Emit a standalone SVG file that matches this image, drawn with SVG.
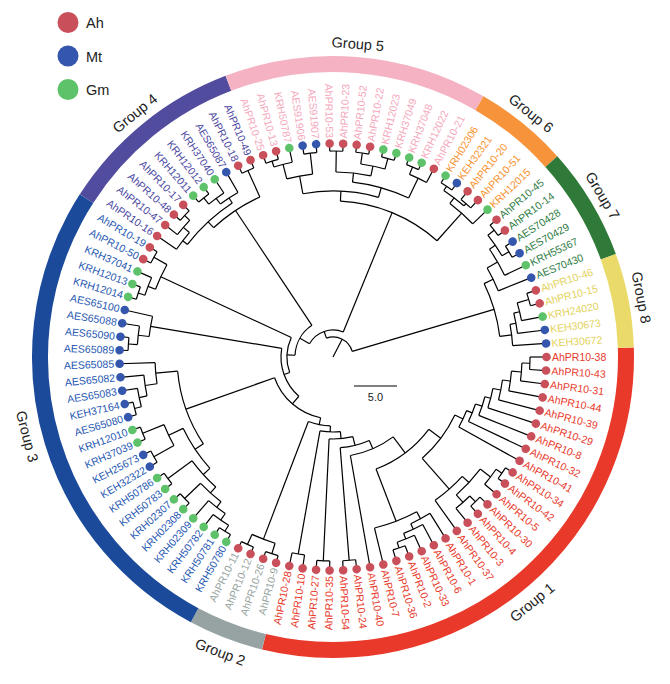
<svg xmlns="http://www.w3.org/2000/svg" width="670" height="684" viewBox="0 0 670 684">
<style>
.t{font-family:"Liberation Sans",Arial,sans-serif;font-size:10.5px}
.f{text-anchor:end}
.c1{fill:#e8392b}.c2{fill:#98a49f}.c3{fill:#1f58b2}.c4{fill:#4b479f}.c5{fill:#f4a8bb}.c6{fill:#f7922e}.c7{fill:#2f7b45}.c8{fill:#e4d25c}
.ah{fill:#c9505a}.mt{fill:#3556ad}.gm{fill:#5ec26a}
#conn path,#conn circle{fill:none;stroke:#000;stroke-width:1.2}
.band{fill:none;stroke-width:16}
.gl{font-family:"Liberation Sans",Arial,sans-serif;font-size:14.5px;fill:#222;text-anchor:middle}
.lg{font-family:"Liberation Sans",Arial,sans-serif;font-size:14.5px;fill:#222}
</style>
<rect width="670" height="684" fill="#fff"/>
<g id="legend">
<g id="legend-ah"><circle cx="68" cy="22.5" r="10.5" class="ah"/><text class="lg" x="86" y="28">Ah</text></g>
<g id="legend-mt"><circle cx="68" cy="56" r="10.5" class="mt"/><text class="lg" x="86" y="61.5">Mt</text></g>
<g id="legend-gm"><circle cx="68" cy="89.5" r="10.5" class="gm"/><text class="lg" x="86" y="95">Gm</text></g>
</g>
<g transform="translate(333 357)">
<g id="bands">
<circle class="band" r="293" pathLength="99" stroke-dasharray="29 999" transform="rotate(-1.818)" stroke="#e8392a"/>
<circle class="band" r="293" pathLength="99" stroke-dasharray="4 999" transform="rotate(103.636)" stroke="#97a3a3"/>
<circle class="band" r="293" pathLength="99" stroke-dasharray="26 999" transform="rotate(118.182)" stroke="#1b4a9a"/>
<circle class="band" r="293" pathLength="99" stroke-dasharray="10 999" transform="rotate(212.727)" stroke="#524c9e"/>
<circle class="band" r="293" pathLength="99" stroke-dasharray="14 999" transform="rotate(249.091)" stroke="#f4b2c2"/>
<circle class="band" r="293" pathLength="99" stroke-dasharray="5 999" transform="rotate(300)" stroke="#f7933b"/>
<circle class="band" r="293" pathLength="99" stroke-dasharray="6 999" transform="rotate(318.182)" stroke="#2f7a38"/>
<circle class="band" r="293" pathLength="99" stroke-dasharray="5 999" transform="rotate(340)" stroke="#e9da6a"/>
</g>
<g id="group-labels">
<text class="gl" transform="rotate(50.909) translate(321 0) rotate(-90)">Group 1</text>
<text class="gl" transform="rotate(110.909) translate(321 0) rotate(-90)">Group 2</text>
<text class="gl" transform="rotate(165.455) translate(321 0) rotate(-90)">Group 3</text>
<text class="gl" transform="rotate(230.909) translate(309 0) rotate(90)">Group 4</text>
<text class="gl" transform="rotate(274.545) translate(309 0) rotate(90)">Group 5</text>
<text class="gl" transform="rotate(309.091) translate(309 0) rotate(90)">Group 6</text>
<text class="gl" transform="rotate(329.091) translate(309 0) rotate(90)">Group 7</text>
<text class="gl" transform="rotate(349.091) translate(309 0) rotate(90)">Group 8</text>
</g>
<g id="conn">
<circle r="197" pathLength="99" stroke-dasharray="1 999" transform="rotate(0)"/><path d="M189 0H197" transform="rotate(1.818)"/>
<circle r="189" pathLength="99" stroke-dasharray="1.5 999" transform="rotate(1.818)"/><path d="M179 0H189" transform="rotate(4.545)"/>
<circle r="179" pathLength="99" stroke-dasharray="1.75 999" transform="rotate(4.545)"/><path d="M171 0H179" transform="rotate(7.727)"/>
<circle r="171" pathLength="99" stroke-dasharray="1.875 999" transform="rotate(7.727)"/><path d="M163 0H171" transform="rotate(11.136)"/>
<circle r="163" pathLength="99" stroke-dasharray="1.9375 999" transform="rotate(11.136)"/><path d="M157 0H163" transform="rotate(14.659)"/>
<circle r="157" pathLength="99" stroke-dasharray="1.969 999" transform="rotate(14.659)"/><path d="M150 0H157" transform="rotate(18.239)"/>
<circle r="150" pathLength="99" stroke-dasharray="1.984 999" transform="rotate(18.239)"/><path d="M144 0H150" transform="rotate(21.847)"/>
<circle r="144" pathLength="99" stroke-dasharray="1.992 999" transform="rotate(21.847)"/><path d="M135 0H144" transform="rotate(25.469)"/>
<circle r="205" pathLength="99" stroke-dasharray="1 999" transform="rotate(32.727)"/><path d="M198 0H205" transform="rotate(34.545)"/>
<circle r="198" pathLength="99" stroke-dasharray="1.5 999" transform="rotate(34.545)"/><path d="M185 0H198" transform="rotate(37.273)"/>
<circle r="203" pathLength="99" stroke-dasharray="1 999" transform="rotate(43.636)"/><path d="M195 0H203" transform="rotate(45.455)"/>
<circle r="195" pathLength="99" stroke-dasharray="1.5 999" transform="rotate(45.455)"/><path d="M185 0H195" transform="rotate(48.182)"/>
<circle r="185" pathLength="99" stroke-dasharray="3 999" transform="rotate(37.273)"/><path d="M176 0H185" transform="rotate(42.727)"/>
<circle r="176" pathLength="99" stroke-dasharray="3.25 999" transform="rotate(42.727)"/><path d="M135 0H176" transform="rotate(48.636)"/>
<circle r="135" pathLength="99" stroke-dasharray="6.371 999" transform="rotate(25.469)"/><path d="M120 0H135" transform="rotate(37.054)"/>
<circle r="202" pathLength="99" stroke-dasharray="1 999" transform="rotate(69.091)"/><path d="M196 0H202" transform="rotate(70.909)"/>
<circle r="196" pathLength="99" stroke-dasharray="1.5 999" transform="rotate(65.455)"/><path d="M190 0H196" transform="rotate(68.182)"/>
<circle r="190" pathLength="99" stroke-dasharray="1.75 999" transform="rotate(61.818)"/><path d="M184 0H190" transform="rotate(65)"/>
<circle r="184" pathLength="99" stroke-dasharray="1.875 999" transform="rotate(58.182)"/><path d="M176 0H184" transform="rotate(61.591)"/>
<circle r="176" pathLength="99" stroke-dasharray="4.0625 999" transform="rotate(61.591)"/><path d="M120 0H176" transform="rotate(68.977)"/>
<circle r="120" pathLength="99" stroke-dasharray="8.78 999" transform="rotate(37.054)"/><path d="M100 0H120" transform="rotate(53.02)"/>
<circle r="100" pathLength="99" stroke-dasharray="7.42 999" transform="rotate(53.02)"/><path d="M91 0H100" transform="rotate(66.51)"/>
<circle r="204" pathLength="99" stroke-dasharray="1 999" transform="rotate(83.636)"/><path d="M91 0H204" transform="rotate(85.455)"/>
<circle r="91" pathLength="99" stroke-dasharray="5.21 999" transform="rotate(66.51)"/><path d="M82 0H91" transform="rotate(75.98)"/>
<circle r="204" pathLength="99" stroke-dasharray="1 999" transform="rotate(90.909)"/><path d="M82 0H204" transform="rotate(92.727)"/>
<circle r="82" pathLength="99" stroke-dasharray="4.605 999" transform="rotate(75.98)"/><path d="M75 0H82" transform="rotate(84.354)"/>
<circle r="200" pathLength="99" stroke-dasharray="1 999" transform="rotate(98.182)"/><path d="M75 0H200" transform="rotate(100)"/>
<circle r="75" pathLength="99" stroke-dasharray="4.3025 999" transform="rotate(84.354)"/><path d="M69 0H75" transform="rotate(92.178)"/>
<circle r="206" pathLength="99" stroke-dasharray="1 999" transform="rotate(105.455)"/><path d="M195 0H206" transform="rotate(107.273)"/>
<circle r="206" pathLength="99" stroke-dasharray="1 999" transform="rotate(112.727)"/><path d="M195 0H206" transform="rotate(114.545)"/>
<circle r="195" pathLength="99" stroke-dasharray="2 999" transform="rotate(107.273)"/><path d="M69 0H195" transform="rotate(110.909)"/>
<circle r="69" pathLength="99" stroke-dasharray="5.151 999" transform="rotate(92.178)"/><path d="M62 0H69" transform="rotate(101.54)"/>
<circle r="205" pathLength="99" stroke-dasharray="1 999" transform="rotate(120)"/><path d="M198 0H205" transform="rotate(121.818)"/>
<circle r="198" pathLength="99" stroke-dasharray="1.5 999" transform="rotate(121.818)"/><path d="M190 0H198" transform="rotate(124.545)"/>
<circle r="190" pathLength="99" stroke-dasharray="1.75 999" transform="rotate(124.545)"/><path d="M183 0H190" transform="rotate(127.727)"/>
<circle r="205" pathLength="99" stroke-dasharray="1 999" transform="rotate(134.545)"/><path d="M183 0H205" transform="rotate(136.364)"/>
<circle r="183" pathLength="99" stroke-dasharray="2.375 999" transform="rotate(127.727)"/><path d="M175 0H183" transform="rotate(132.045)"/>
<circle r="205" pathLength="99" stroke-dasharray="1 999" transform="rotate(141.818)"/><path d="M175 0H205" transform="rotate(143.636)"/>
<circle r="175" pathLength="99" stroke-dasharray="3.1875 999" transform="rotate(132.045)"/><path d="M166 0H175" transform="rotate(137.841)"/>
<circle r="205" pathLength="99" stroke-dasharray="1 999" transform="rotate(149.091)"/><path d="M182 0H205" transform="rotate(150.909)"/>
<circle r="205" pathLength="99" stroke-dasharray="1 999" transform="rotate(156.364)"/><path d="M182 0H205" transform="rotate(158.182)"/>
<circle r="182" pathLength="99" stroke-dasharray="2 999" transform="rotate(150.909)"/><path d="M166 0H182" transform="rotate(154.545)"/>
<circle r="166" pathLength="99" stroke-dasharray="4.594 999" transform="rotate(137.841)"/><path d="M156 0H166" transform="rotate(146.193)"/>
<circle r="205" pathLength="99" stroke-dasharray="1 999" transform="rotate(163.636)"/><path d="M198 0H205" transform="rotate(165.455)"/>
<circle r="198" pathLength="99" stroke-dasharray="1.5 999" transform="rotate(165.455)"/><path d="M190 0H198" transform="rotate(168.182)"/>
<circle r="190" pathLength="99" stroke-dasharray="1.75 999" transform="rotate(168.182)"/><path d="M178 0H190" transform="rotate(171.364)"/>
<circle r="178" pathLength="99" stroke-dasharray="1.875 999" transform="rotate(171.364)"/><path d="M156 0H178" transform="rotate(174.773)"/>
<circle r="156" pathLength="99" stroke-dasharray="7.86 999" transform="rotate(146.193)"/><path d="M62 0H156" transform="rotate(160.48)"/>
<circle r="62" pathLength="99" stroke-dasharray="16.209 999" transform="rotate(101.54)"/><path d="M52 0H62" transform="rotate(131.01)"/>
<circle r="205" pathLength="99" stroke-dasharray="1 999" transform="rotate(181.818)"/><path d="M196 0H205" transform="rotate(183.636)"/>
<circle r="196" pathLength="99" stroke-dasharray="1.5 999" transform="rotate(183.636)"/><path d="M185 0H196" transform="rotate(186.364)"/>
<circle r="185" pathLength="99" stroke-dasharray="1.75 999" transform="rotate(186.364)"/><path d="M52 0H185" transform="rotate(189.545)"/>
<circle r="52" pathLength="99" stroke-dasharray="16.095 999" transform="rotate(131.01)"/><path d="M46 0H52" transform="rotate(160.28)"/>
<circle r="205" pathLength="99" stroke-dasharray="1 999" transform="rotate(196.364)"/><path d="M198 0H205" transform="rotate(198.182)"/>
<circle r="198" pathLength="99" stroke-dasharray="1.5 999" transform="rotate(198.182)"/><path d="M190 0H198" transform="rotate(200.909)"/>
<circle r="205" pathLength="99" stroke-dasharray="1 999" transform="rotate(207.273)"/><path d="M190 0H205" transform="rotate(209.091)"/>
<circle r="190" pathLength="99" stroke-dasharray="2.25 999" transform="rotate(200.909)"/><path d="M46 0H190" transform="rotate(205)"/>
<circle r="46" pathLength="99" stroke-dasharray="12.297 999" transform="rotate(160.28)"/><path d="M38 0H46" transform="rotate(182.64)"/>
<circle r="205" pathLength="99" stroke-dasharray="1 999" transform="rotate(221.818)"/><path d="M198 0H205" transform="rotate(223.636)"/>
<circle r="198" pathLength="99" stroke-dasharray="1.5 999" transform="rotate(218.182)"/><path d="M190 0H198" transform="rotate(220.909)"/>
<circle r="190" pathLength="99" stroke-dasharray="1.75 999" transform="rotate(214.545)"/><path d="M184 0H190" transform="rotate(217.727)"/>
<circle r="205" pathLength="99" stroke-dasharray="1 999" transform="rotate(229.091)"/><path d="M197 0H205" transform="rotate(230.909)"/>
<circle r="197" pathLength="99" stroke-dasharray="1.5 999" transform="rotate(230.909)"/><path d="M190 0H197" transform="rotate(233.636)"/>
<circle r="190" pathLength="99" stroke-dasharray="1.75 999" transform="rotate(233.636)"/><path d="M184 0H190" transform="rotate(236.818)"/>
<circle r="184" pathLength="99" stroke-dasharray="5.25 999" transform="rotate(217.727)"/><path d="M176 0H184" transform="rotate(227.273)"/>
<circle r="205" pathLength="99" stroke-dasharray="1 999" transform="rotate(243.636)"/><path d="M176 0H205" transform="rotate(245.455)"/>
<circle r="176" pathLength="99" stroke-dasharray="5 999" transform="rotate(227.273)"/><path d="M38 0H176" transform="rotate(236.364)"/>
<circle r="38" pathLength="99" stroke-dasharray="14.773 999" transform="rotate(182.64)"/><path d="M27 0H38" transform="rotate(209.5)"/>
<circle r="205" pathLength="99" stroke-dasharray="1 999" transform="rotate(250.909)"/><path d="M199 0H205" transform="rotate(252.727)"/>
<circle r="199" pathLength="99" stroke-dasharray="1.5 999" transform="rotate(252.727)"/><path d="M184 0H199" transform="rotate(255.455)"/>
<circle r="205" pathLength="99" stroke-dasharray="1 999" transform="rotate(261.818)"/><path d="M184 0H205" transform="rotate(263.636)"/>
<circle r="184" pathLength="99" stroke-dasharray="2.25 999" transform="rotate(255.455)"/><path d="M166 0H184" transform="rotate(259.545)"/>
<circle r="206" pathLength="99" stroke-dasharray="1 999" transform="rotate(269.091)"/><path d="M185 0H206" transform="rotate(270.909)"/>
<circle r="206" pathLength="99" stroke-dasharray="1 999" transform="rotate(276.364)"/><path d="M195 0H206" transform="rotate(278.182)"/>
<circle r="206" pathLength="99" stroke-dasharray="1 999" transform="rotate(283.636)"/><path d="M195 0H206" transform="rotate(285.455)"/>
<circle r="195" pathLength="99" stroke-dasharray="2 999" transform="rotate(278.182)"/><path d="M185 0H195" transform="rotate(281.818)"/>
<circle r="185" pathLength="99" stroke-dasharray="3 999" transform="rotate(270.909)"/><path d="M176 0H185" transform="rotate(276.364)"/>
<circle r="206" pathLength="99" stroke-dasharray="1 999" transform="rotate(290.909)"/><path d="M198 0H206" transform="rotate(292.727)"/>
<circle r="198" pathLength="99" stroke-dasharray="1.5 999" transform="rotate(292.727)"/><path d="M176 0H198" transform="rotate(295.455)"/>
<circle r="176" pathLength="99" stroke-dasharray="5.25 999" transform="rotate(276.364)"/><path d="M166 0H176" transform="rotate(285.909)"/>
<circle r="166" pathLength="99" stroke-dasharray="7.25 999" transform="rotate(259.545)"/><path d="M156 0H166" transform="rotate(272.727)"/>
<circle r="205" pathLength="99" stroke-dasharray="1 999" transform="rotate(301.818)"/><path d="M200 0H205" transform="rotate(303.636)"/>
<circle r="203" pathLength="99" stroke-dasharray="1 999" transform="rotate(309.091)"/><path d="M200 0H203" transform="rotate(310.909)"/>
<circle r="200" pathLength="99" stroke-dasharray="2 999" transform="rotate(303.636)"/><path d="M193 0H200" transform="rotate(307.273)"/>
<circle r="193" pathLength="99" stroke-dasharray="2.5 999" transform="rotate(307.273)"/><path d="M156 0H193" transform="rotate(311.818)"/>
<circle r="156" pathLength="99" stroke-dasharray="10.75 999" transform="rotate(272.727)"/><path d="M27 0H156" transform="rotate(292.27)"/>
<circle r="27" pathLength="99" stroke-dasharray="22.761 999" transform="rotate(209.5)"/><path d="M20 0H27" transform="rotate(250.89)"/>
<circle r="205" pathLength="99" stroke-dasharray="1 999" transform="rotate(320)"/><path d="M197 0H205" transform="rotate(321.818)"/>
<circle r="205" pathLength="99" stroke-dasharray="1 999" transform="rotate(327.273)"/><path d="M197 0H205" transform="rotate(329.091)"/>
<circle r="197" pathLength="99" stroke-dasharray="2 999" transform="rotate(321.818)"/><path d="M190 0H197" transform="rotate(325.455)"/>
<circle r="190" pathLength="99" stroke-dasharray="2.5 999" transform="rotate(325.455)"/><path d="M178 0H190" transform="rotate(330)"/>
<circle r="178" pathLength="99" stroke-dasharray="2.25 999" transform="rotate(330)"/><path d="M168 0H178" transform="rotate(334.091)"/>
<circle r="204" pathLength="99" stroke-dasharray="1 999" transform="rotate(341.818)"/><path d="M192 0H204" transform="rotate(343.636)"/>
<circle r="192" pathLength="99" stroke-dasharray="1.5 999" transform="rotate(343.636)"/><path d="M186 0H192" transform="rotate(346.364)"/>
<circle r="186" pathLength="99" stroke-dasharray="1.75 999" transform="rotate(346.364)"/><path d="M180 0H186" transform="rotate(349.545)"/>
<circle r="180" pathLength="99" stroke-dasharray="1.875 999" transform="rotate(349.545)"/><path d="M168 0H180" transform="rotate(352.955)"/>
<circle r="168" pathLength="99" stroke-dasharray="5.1875 999" transform="rotate(334.091)"/><path d="M20 0H168" transform="rotate(343.523)"/>
<circle r="20" pathLength="99" stroke-dasharray="25.4745 999" transform="rotate(250.89)"/><path d="M0 0H20" transform="rotate(297.2)"/>
<path d="M197 0H213.5" transform="rotate(0)"/><path d="M197 0H213.5" transform="rotate(3.636)"/><path d="M189 0H213.5" transform="rotate(7.273)"/><path d="M179 0H213.5" transform="rotate(10.909)"/><path d="M171 0H213.5" transform="rotate(14.545)"/><path d="M163 0H213.5" transform="rotate(18.182)"/><path d="M157 0H213.5" transform="rotate(21.818)"/><path d="M150 0H213.5" transform="rotate(25.455)"/><path d="M144 0H213.5" transform="rotate(29.091)"/><path d="M205 0H213.5" transform="rotate(32.727)"/>
<path d="M205 0H213.5" transform="rotate(36.364)"/><path d="M198 0H213.5" transform="rotate(40)"/><path d="M203 0H213.5" transform="rotate(43.636)"/><path d="M203 0H213.5" transform="rotate(47.273)"/><path d="M195 0H213.5" transform="rotate(50.909)"/><path d="M176 0H213.5" transform="rotate(54.545)"/><path d="M184 0H213.5" transform="rotate(58.182)"/><path d="M190 0H213.5" transform="rotate(61.818)"/><path d="M196 0H213.5" transform="rotate(65.455)"/><path d="M202 0H213.5" transform="rotate(69.091)"/>
<path d="M202 0H213.5" transform="rotate(72.727)"/><path d="M176 0H213.5" transform="rotate(76.364)"/><path d="M100 0H213.5" transform="rotate(80)"/><path d="M204 0H213.5" transform="rotate(83.636)"/><path d="M204 0H213.5" transform="rotate(87.273)"/><path d="M204 0H213.5" transform="rotate(90.909)"/><path d="M204 0H213.5" transform="rotate(94.545)"/><path d="M200 0H213.5" transform="rotate(98.182)"/><path d="M200 0H213.5" transform="rotate(101.818)"/><path d="M206 0H213.5" transform="rotate(105.455)"/>
<path d="M206 0H213.5" transform="rotate(109.091)"/><path d="M206 0H213.5" transform="rotate(112.727)"/><path d="M206 0H213.5" transform="rotate(116.364)"/><path d="M205 0H213.5" transform="rotate(120)"/><path d="M205 0H213.5" transform="rotate(123.636)"/><path d="M198 0H213.5" transform="rotate(127.273)"/><path d="M190 0H213.5" transform="rotate(130.909)"/><path d="M205 0H213.5" transform="rotate(134.545)"/><path d="M205 0H213.5" transform="rotate(138.182)"/><path d="M205 0H213.5" transform="rotate(141.818)"/>
<path d="M205 0H213.5" transform="rotate(145.455)"/><path d="M205 0H213.5" transform="rotate(149.091)"/><path d="M205 0H213.5" transform="rotate(152.727)"/><path d="M205 0H213.5" transform="rotate(156.364)"/><path d="M205 0H213.5" transform="rotate(160)"/><path d="M205 0H213.5" transform="rotate(163.636)"/><path d="M205 0H213.5" transform="rotate(167.273)"/><path d="M198 0H213.5" transform="rotate(170.909)"/><path d="M190 0H213.5" transform="rotate(174.545)"/><path d="M178 0H213.5" transform="rotate(178.182)"/>
<path d="M205 0H213.5" transform="rotate(181.818)"/><path d="M205 0H213.5" transform="rotate(185.455)"/><path d="M196 0H213.5" transform="rotate(189.091)"/><path d="M185 0H213.5" transform="rotate(192.727)"/><path d="M205 0H213.5" transform="rotate(196.364)"/><path d="M205 0H213.5" transform="rotate(200)"/><path d="M198 0H213.5" transform="rotate(203.636)"/><path d="M205 0H213.5" transform="rotate(207.273)"/><path d="M205 0H213.5" transform="rotate(210.909)"/><path d="M190 0H213.5" transform="rotate(214.545)"/>
<path d="M198 0H213.5" transform="rotate(218.182)"/><path d="M205 0H213.5" transform="rotate(221.818)"/><path d="M205 0H213.5" transform="rotate(225.455)"/><path d="M205 0H213.5" transform="rotate(229.091)"/><path d="M205 0H213.5" transform="rotate(232.727)"/><path d="M197 0H213.5" transform="rotate(236.364)"/><path d="M190 0H213.5" transform="rotate(240)"/><path d="M205 0H213.5" transform="rotate(243.636)"/><path d="M205 0H213.5" transform="rotate(247.273)"/><path d="M205 0H213.5" transform="rotate(250.909)"/>
<path d="M205 0H213.5" transform="rotate(254.545)"/><path d="M199 0H213.5" transform="rotate(258.182)"/><path d="M205 0H213.5" transform="rotate(261.818)"/><path d="M205 0H213.5" transform="rotate(265.455)"/><path d="M206 0H213.5" transform="rotate(269.091)"/><path d="M206 0H213.5" transform="rotate(272.727)"/><path d="M206 0H213.5" transform="rotate(276.364)"/><path d="M206 0H213.5" transform="rotate(280)"/><path d="M206 0H213.5" transform="rotate(283.636)"/><path d="M206 0H213.5" transform="rotate(287.273)"/>
<path d="M206 0H213.5" transform="rotate(290.909)"/><path d="M206 0H213.5" transform="rotate(294.545)"/><path d="M198 0H213.5" transform="rotate(298.182)"/><path d="M205 0H213.5" transform="rotate(301.818)"/><path d="M205 0H213.5" transform="rotate(305.455)"/><path d="M203 0H213.5" transform="rotate(309.091)"/><path d="M203 0H213.5" transform="rotate(312.727)"/><path d="M193 0H213.5" transform="rotate(316.364)"/><path d="M205 0H213.5" transform="rotate(320)"/><path d="M205 0H213.5" transform="rotate(323.636)"/>
<path d="M205 0H213.5" transform="rotate(327.273)"/><path d="M205 0H213.5" transform="rotate(330.909)"/><path d="M190 0H213.5" transform="rotate(334.545)"/><path d="M178 0H213.5" transform="rotate(338.182)"/><path d="M204 0H213.5" transform="rotate(341.818)"/><path d="M204 0H213.5" transform="rotate(345.455)"/><path d="M192 0H213.5" transform="rotate(349.091)"/><path d="M186 0H213.5" transform="rotate(352.727)"/><path d="M180 0H213.5" transform="rotate(356.364)"/>
</g>
<g id="leaves">
<g id="leaf-AhPR10-38" transform="rotate(0)"><circle class="ah" cx="213.5" r="4.3"/><text class="t c1" x="219" y="3.6">AhPR10-38</text></g>
<g id="leaf-AhPR10-43" transform="rotate(3.636)"><circle class="ah" cx="213.5" r="4.3"/><text class="t c1" x="219" y="3.6">AhPR10-43</text></g>
<g id="leaf-AhPR10-31" transform="rotate(7.273)"><circle class="ah" cx="213.5" r="4.3"/><text class="t c1" x="219" y="3.6">AhPR10-31</text></g>
<g id="leaf-AhPR10-44" transform="rotate(10.909)"><circle class="ah" cx="213.5" r="4.3"/><text class="t c1" x="219" y="3.6">AhPR10-44</text></g>
<g id="leaf-AhPR10-39" transform="rotate(14.545)"><circle class="ah" cx="213.5" r="4.3"/><text class="t c1" x="219" y="3.6">AhPR10-39</text></g>
<g id="leaf-AhPR10-29" transform="rotate(18.182)"><circle class="ah" cx="213.5" r="4.3"/><text class="t c1" x="219" y="3.6">AhPR10-29</text></g>
<g id="leaf-AhPR10-8" transform="rotate(21.818)"><circle class="ah" cx="213.5" r="4.3"/><text class="t c1" x="219" y="3.6">AhPR10-8</text></g>
<g id="leaf-AhPR10-32" transform="rotate(25.455)"><circle class="ah" cx="213.5" r="4.3"/><text class="t c1" x="219" y="3.6">AhPR10-32</text></g>
<g id="leaf-AhPR10-41" transform="rotate(29.091)"><circle class="ah" cx="213.5" r="4.3"/><text class="t c1" x="219" y="3.6">AhPR10-41</text></g>
<g id="leaf-AhPR10-34" transform="rotate(32.727)"><circle class="ah" cx="213.5" r="4.3"/><text class="t c1" x="219" y="3.6">AhPR10-34</text></g>
<g id="leaf-AhPR10-42" transform="rotate(36.364)"><circle class="ah" cx="213.5" r="4.3"/><text class="t c1" x="219" y="3.6">AhPR10-42</text></g>
<g id="leaf-AhPR10-5" transform="rotate(40)"><circle class="ah" cx="213.5" r="4.3"/><text class="t c1" x="219" y="3.6">AhPR10-5</text></g>
<g id="leaf-AhPR10-30" transform="rotate(43.636)"><circle class="ah" cx="213.5" r="4.3"/><text class="t c1" x="219" y="3.6">AhPR10-30</text></g>
<g id="leaf-AhPR10-4" transform="rotate(47.273)"><circle class="ah" cx="213.5" r="4.3"/><text class="t c1" x="219" y="3.6">AhPR10-4</text></g>
<g id="leaf-AhPR10-3" transform="rotate(50.909)"><circle class="ah" cx="213.5" r="4.3"/><text class="t c1" x="219" y="3.6">AhPR10-3</text></g>
<g id="leaf-AhPR10-37" transform="rotate(54.545)"><circle class="ah" cx="213.5" r="4.3"/><text class="t c1" x="219" y="3.6">AhPR10-37</text></g>
<g id="leaf-AhPR10-1" transform="rotate(58.182)"><circle class="ah" cx="213.5" r="4.3"/><text class="t c1" x="219" y="3.6">AhPR10-1</text></g>
<g id="leaf-AhPR10-6" transform="rotate(61.818)"><circle class="ah" cx="213.5" r="4.3"/><text class="t c1" x="219" y="3.6">AhPR10-6</text></g>
<g id="leaf-AhPR10-33" transform="rotate(65.455)"><circle class="ah" cx="213.5" r="4.3"/><text class="t c1" x="219" y="3.6">AhPR10-33</text></g>
<g id="leaf-AhPR10-2" transform="rotate(69.091)"><circle class="ah" cx="213.5" r="4.3"/><text class="t c1" x="219" y="3.6">AhPR10-2</text></g>
<g id="leaf-AhPR10-36" transform="rotate(72.727)"><circle class="ah" cx="213.5" r="4.3"/><text class="t c1" x="219" y="3.6">AhPR10-36</text></g>
<g id="leaf-AhPR10-7" transform="rotate(76.364)"><circle class="ah" cx="213.5" r="4.3"/><text class="t c1" x="219" y="3.6">AhPR10-7</text></g>
<g id="leaf-AhPR10-40" transform="rotate(80)"><circle class="ah" cx="213.5" r="4.3"/><text class="t c1" x="219" y="3.6">AhPR10-40</text></g>
<g id="leaf-AhPR10-24" transform="rotate(83.636)"><circle class="ah" cx="213.5" r="4.3"/><text class="t c1" x="219" y="3.6">AhPR10-24</text></g>
<g id="leaf-AhPR10-54" transform="rotate(87.273)"><circle class="ah" cx="213.5" r="4.3"/><text class="t c1" x="219" y="3.6">AhPR10-54</text></g>
<g id="leaf-AhPR10-35" transform="rotate(90.909)"><circle class="ah" cx="213.5" r="4.3"/><text class="t c1 f" x="-219" y="3.6" transform="rotate(180)">AhPR10-35</text></g>
<g id="leaf-AhPR10-27" transform="rotate(94.545)"><circle class="ah" cx="213.5" r="4.3"/><text class="t c1 f" x="-219" y="3.6" transform="rotate(180)">AhPR10-27</text></g>
<g id="leaf-AhPR10-10" transform="rotate(98.182)"><circle class="ah" cx="213.5" r="4.3"/><text class="t c1 f" x="-219" y="3.6" transform="rotate(180)">AhPR10-10</text></g>
<g id="leaf-AhPR10-28" transform="rotate(101.818)"><circle class="ah" cx="213.5" r="4.3"/><text class="t c1 f" x="-219" y="3.6" transform="rotate(180)">AhPR10-28</text></g>
<g id="leaf-AhPR10-9" transform="rotate(105.455)"><circle class="ah" cx="213.5" r="4.3"/><text class="t c2 f" x="-219" y="3.6" transform="rotate(180)">AhPR10-9</text></g>
<g id="leaf-AhPR10-26" transform="rotate(109.091)"><circle class="ah" cx="213.5" r="4.3"/><text class="t c2 f" x="-219" y="3.6" transform="rotate(180)">AhPR10-26</text></g>
<g id="leaf-AhPR10-12" transform="rotate(112.727)"><circle class="ah" cx="213.5" r="4.3"/><text class="t c2 f" x="-219" y="3.6" transform="rotate(180)">AhPR10-12</text></g>
<g id="leaf-AhPR10-11" transform="rotate(116.364)"><circle class="ah" cx="213.5" r="4.3"/><text class="t c2 f" x="-219" y="3.6" transform="rotate(180)">AhPR10-11</text></g>
<g id="leaf-KRH50780" transform="rotate(120)"><circle class="gm" cx="213.5" r="4.3"/><text class="t c3 f" x="-219" y="3.6" transform="rotate(180)">KRH50780</text></g>
<g id="leaf-KRH50781" transform="rotate(123.636)"><circle class="gm" cx="213.5" r="4.3"/><text class="t c3 f" x="-219" y="3.6" transform="rotate(180)">KRH50781</text></g>
<g id="leaf-KRH50782" transform="rotate(127.273)"><circle class="gm" cx="213.5" r="4.3"/><text class="t c3 f" x="-219" y="3.6" transform="rotate(180)">KRH50782</text></g>
<g id="leaf-KRH02309" transform="rotate(130.909)"><circle class="gm" cx="213.5" r="4.3"/><text class="t c3 f" x="-219" y="3.6" transform="rotate(180)">KRH02309</text></g>
<g id="leaf-KRH02308" transform="rotate(134.545)"><circle class="gm" cx="213.5" r="4.3"/><text class="t c3 f" x="-219" y="3.6" transform="rotate(180)">KRH02308</text></g>
<g id="leaf-KRH02307" transform="rotate(138.182)"><circle class="gm" cx="213.5" r="4.3"/><text class="t c3 f" x="-219" y="3.6" transform="rotate(180)">KRH02307</text></g>
<g id="leaf-KRH50783" transform="rotate(141.818)"><circle class="gm" cx="213.5" r="4.3"/><text class="t c3 f" x="-219" y="3.6" transform="rotate(180)">KRH50783</text></g>
<g id="leaf-KRH50786" transform="rotate(145.455)"><circle class="gm" cx="213.5" r="4.3"/><text class="t c3 f" x="-219" y="3.6" transform="rotate(180)">KRH50786</text></g>
<g id="leaf-KEH32322" transform="rotate(149.091)"><circle class="mt" cx="213.5" r="4.3"/><text class="t c3 f" x="-219" y="3.6" transform="rotate(180)">KEH32322</text></g>
<g id="leaf-KEH25673" transform="rotate(152.727)"><circle class="mt" cx="213.5" r="4.3"/><text class="t c3 f" x="-219" y="3.6" transform="rotate(180)">KEH25673</text></g>
<g id="leaf-KRH37039" transform="rotate(156.364)"><circle class="gm" cx="213.5" r="4.3"/><text class="t c3 f" x="-219" y="3.6" transform="rotate(180)">KRH37039</text></g>
<g id="leaf-KRH12010" transform="rotate(160)"><circle class="gm" cx="213.5" r="4.3"/><text class="t c3 f" x="-219" y="3.6" transform="rotate(180)">KRH12010</text></g>
<g id="leaf-AES65080" transform="rotate(163.636)"><circle class="mt" cx="213.5" r="4.3"/><text class="t c3 f" x="-219" y="3.6" transform="rotate(180)">AES65080</text></g>
<g id="leaf-KEH37164" transform="rotate(167.273)"><circle class="mt" cx="213.5" r="4.3"/><text class="t c3 f" x="-219" y="3.6" transform="rotate(180)">KEH37164</text></g>
<g id="leaf-AES65083" transform="rotate(170.909)"><circle class="mt" cx="213.5" r="4.3"/><text class="t c3 f" x="-219" y="3.6" transform="rotate(180)">AES65083</text></g>
<g id="leaf-AES65082" transform="rotate(174.545)"><circle class="mt" cx="213.5" r="4.3"/><text class="t c3 f" x="-219" y="3.6" transform="rotate(180)">AES65082</text></g>
<g id="leaf-AES65085" transform="rotate(178.182)"><circle class="mt" cx="213.5" r="4.3"/><text class="t c3 f" x="-219" y="3.6" transform="rotate(180)">AES65085</text></g>
<g id="leaf-AES65089" transform="rotate(181.818)"><circle class="mt" cx="213.5" r="4.3"/><text class="t c3 f" x="-219" y="3.6" transform="rotate(180)">AES65089</text></g>
<g id="leaf-AES65090" transform="rotate(185.455)"><circle class="mt" cx="213.5" r="4.3"/><text class="t c3 f" x="-219" y="3.6" transform="rotate(180)">AES65090</text></g>
<g id="leaf-AES65088" transform="rotate(189.091)"><circle class="mt" cx="213.5" r="4.3"/><text class="t c3 f" x="-219" y="3.6" transform="rotate(180)">AES65088</text></g>
<g id="leaf-AES65100" transform="rotate(192.727)"><circle class="mt" cx="213.5" r="4.3"/><text class="t c3 f" x="-219" y="3.6" transform="rotate(180)">AES65100</text></g>
<g id="leaf-KRH12014" transform="rotate(196.364)"><circle class="gm" cx="213.5" r="4.3"/><text class="t c3 f" x="-219" y="3.6" transform="rotate(180)">KRH12014</text></g>
<g id="leaf-KRH12013" transform="rotate(200)"><circle class="gm" cx="213.5" r="4.3"/><text class="t c3 f" x="-219" y="3.6" transform="rotate(180)">KRH12013</text></g>
<g id="leaf-KRH37041" transform="rotate(203.636)"><circle class="gm" cx="213.5" r="4.3"/><text class="t c3 f" x="-219" y="3.6" transform="rotate(180)">KRH37041</text></g>
<g id="leaf-AhPR10-50" transform="rotate(207.273)"><circle class="ah" cx="213.5" r="4.3"/><text class="t c3 f" x="-219" y="3.6" transform="rotate(180)">AhPR10-50</text></g>
<g id="leaf-AhPR10-19" transform="rotate(210.909)"><circle class="ah" cx="213.5" r="4.3"/><text class="t c3 f" x="-219" y="3.6" transform="rotate(180)">AhPR10-19</text></g>
<g id="leaf-AhPR10-16" transform="rotate(214.545)"><circle class="ah" cx="213.5" r="4.3"/><text class="t c4 f" x="-219" y="3.6" transform="rotate(180)">AhPR10-16</text></g>
<g id="leaf-AhPR10-47" transform="rotate(218.182)"><circle class="ah" cx="213.5" r="4.3"/><text class="t c4 f" x="-219" y="3.6" transform="rotate(180)">AhPR10-47</text></g>
<g id="leaf-AhPR10-48" transform="rotate(221.818)"><circle class="ah" cx="213.5" r="4.3"/><text class="t c4 f" x="-219" y="3.6" transform="rotate(180)">AhPR10-48</text></g>
<g id="leaf-AhPR10-17" transform="rotate(225.455)"><circle class="ah" cx="213.5" r="4.3"/><text class="t c4 f" x="-219" y="3.6" transform="rotate(180)">AhPR10-17</text></g>
<g id="leaf-KRH12011" transform="rotate(229.091)"><circle class="gm" cx="213.5" r="4.3"/><text class="t c4 f" x="-219" y="3.6" transform="rotate(180)">KRH12011</text></g>
<g id="leaf-KRH12012" transform="rotate(232.727)"><circle class="gm" cx="213.5" r="4.3"/><text class="t c4 f" x="-219" y="3.6" transform="rotate(180)">KRH12012</text></g>
<g id="leaf-KRH37040" transform="rotate(236.364)"><circle class="gm" cx="213.5" r="4.3"/><text class="t c4 f" x="-219" y="3.6" transform="rotate(180)">KRH37040</text></g>
<g id="leaf-AES65087" transform="rotate(240)"><circle class="mt" cx="213.5" r="4.3"/><text class="t c4 f" x="-219" y="3.6" transform="rotate(180)">AES65087</text></g>
<g id="leaf-AhPR10-18" transform="rotate(243.636)"><circle class="ah" cx="213.5" r="4.3"/><text class="t c4 f" x="-219" y="3.6" transform="rotate(180)">AhPR10-18</text></g>
<g id="leaf-AhPR10-49" transform="rotate(247.273)"><circle class="ah" cx="213.5" r="4.3"/><text class="t c4 f" x="-219" y="3.6" transform="rotate(180)">AhPR10-49</text></g>
<g id="leaf-AhPR10-25" transform="rotate(250.909)"><circle class="ah" cx="213.5" r="4.3"/><text class="t c5 f" x="-219" y="3.6" transform="rotate(180)">AhPR10-25</text></g>
<g id="leaf-AhPR10-13" transform="rotate(254.545)"><circle class="ah" cx="213.5" r="4.3"/><text class="t c5 f" x="-219" y="3.6" transform="rotate(180)">AhPR10-13</text></g>
<g id="leaf-KRH50787" transform="rotate(258.182)"><circle class="gm" cx="213.5" r="4.3"/><text class="t c5 f" x="-219" y="3.6" transform="rotate(180)">KRH50787</text></g>
<g id="leaf-AES91906" transform="rotate(261.818)"><circle class="mt" cx="213.5" r="4.3"/><text class="t c5 f" x="-219" y="3.6" transform="rotate(180)">AES91906</text></g>
<g id="leaf-AES91907" transform="rotate(265.455)"><circle class="mt" cx="213.5" r="4.3"/><text class="t c5 f" x="-219" y="3.6" transform="rotate(180)">AES91907</text></g>
<g id="leaf-AhPR10-53" transform="rotate(269.091)"><circle class="ah" cx="213.5" r="4.3"/><text class="t c5 f" x="-219" y="3.6" transform="rotate(180)">AhPR10-53</text></g>
<g id="leaf-AhPR10-23" transform="rotate(272.727)"><circle class="ah" cx="213.5" r="4.3"/><text class="t c5" x="219" y="3.6">AhPR10-23</text></g>
<g id="leaf-AhPR10-52" transform="rotate(276.364)"><circle class="ah" cx="213.5" r="4.3"/><text class="t c5" x="219" y="3.6">AhPR10-52</text></g>
<g id="leaf-AhPR10-22" transform="rotate(280)"><circle class="ah" cx="213.5" r="4.3"/><text class="t c5" x="219" y="3.6">AhPR10-22</text></g>
<g id="leaf-KRH12023" transform="rotate(283.636)"><circle class="gm" cx="213.5" r="4.3"/><text class="t c5" x="219" y="3.6">KRH12023</text></g>
<g id="leaf-KRH37049" transform="rotate(287.273)"><circle class="gm" cx="213.5" r="4.3"/><text class="t c5" x="219" y="3.6">KRH37049</text></g>
<g id="leaf-KRH37048" transform="rotate(290.909)"><circle class="gm" cx="213.5" r="4.3"/><text class="t c5" x="219" y="3.6">KRH37048</text></g>
<g id="leaf-KRH12022" transform="rotate(294.545)"><circle class="gm" cx="213.5" r="4.3"/><text class="t c5" x="219" y="3.6">KRH12022</text></g>
<g id="leaf-AhPR10-21" transform="rotate(298.182)"><circle class="ah" cx="213.5" r="4.3"/><text class="t c5" x="219" y="3.6">AhPR10-21</text></g>
<g id="leaf-KRH02306" transform="rotate(301.818)"><circle class="gm" cx="213.5" r="4.3"/><text class="t c6" x="219" y="3.6">KRH02306</text></g>
<g id="leaf-KEH32321" transform="rotate(305.455)"><circle class="mt" cx="213.5" r="4.3"/><text class="t c6" x="219" y="3.6">KEH32321</text></g>
<g id="leaf-AhPR10-20" transform="rotate(309.091)"><circle class="ah" cx="213.5" r="4.3"/><text class="t c6" x="219" y="3.6">AhPR10-20</text></g>
<g id="leaf-AhPR10-51" transform="rotate(312.727)"><circle class="ah" cx="213.5" r="4.3"/><text class="t c6" x="219" y="3.6">AhPR10-51</text></g>
<g id="leaf-KRH12015" transform="rotate(316.364)"><circle class="gm" cx="213.5" r="4.3"/><text class="t c6" x="219" y="3.6">KRH12015</text></g>
<g id="leaf-AhPR10-45" transform="rotate(320)"><circle class="ah" cx="213.5" r="4.3"/><text class="t c7" x="219" y="3.6">AhPR10-45</text></g>
<g id="leaf-AhPR10-14" transform="rotate(323.636)"><circle class="ah" cx="213.5" r="4.3"/><text class="t c7" x="219" y="3.6">AhPR10-14</text></g>
<g id="leaf-AES70428" transform="rotate(327.273)"><circle class="mt" cx="213.5" r="4.3"/><text class="t c7" x="219" y="3.6">AES70428</text></g>
<g id="leaf-AES70429" transform="rotate(330.909)"><circle class="mt" cx="213.5" r="4.3"/><text class="t c7" x="219" y="3.6">AES70429</text></g>
<g id="leaf-KRH55367" transform="rotate(334.545)"><circle class="gm" cx="213.5" r="4.3"/><text class="t c7" x="219" y="3.6">KRH55367</text></g>
<g id="leaf-AES70430" transform="rotate(338.182)"><circle class="mt" cx="213.5" r="4.3"/><text class="t c7" x="219" y="3.6">AES70430</text></g>
<g id="leaf-AhPR10-46" transform="rotate(341.818)"><circle class="ah" cx="213.5" r="4.3"/><text class="t c8" x="219" y="3.6">AhPR10-46</text></g>
<g id="leaf-AhPR10-15" transform="rotate(345.455)"><circle class="ah" cx="213.5" r="4.3"/><text class="t c8" x="219" y="3.6">AhPR10-15</text></g>
<g id="leaf-KRH24020" transform="rotate(349.091)"><circle class="gm" cx="213.5" r="4.3"/><text class="t c8" x="219" y="3.6">KRH24020</text></g>
<g id="leaf-KEH30673" transform="rotate(352.727)"><circle class="mt" cx="213.5" r="4.3"/><text class="t c8" x="219" y="3.6">KEH30673</text></g>
<g id="leaf-KEH30672" transform="rotate(356.364)"><circle class="mt" cx="213.5" r="4.3"/><text class="t c8" x="219" y="3.6">KEH30672</text></g>
</g>
</g>
<g id="scale-bar">
<path d="M354 386H397" stroke="#000" stroke-width="1.2"/>
<text x="375.5" y="401" text-anchor="middle" style="font-family:'Liberation Sans',Arial,sans-serif;font-size:11px;fill:#222">5.0</text>
</g>
</svg>
